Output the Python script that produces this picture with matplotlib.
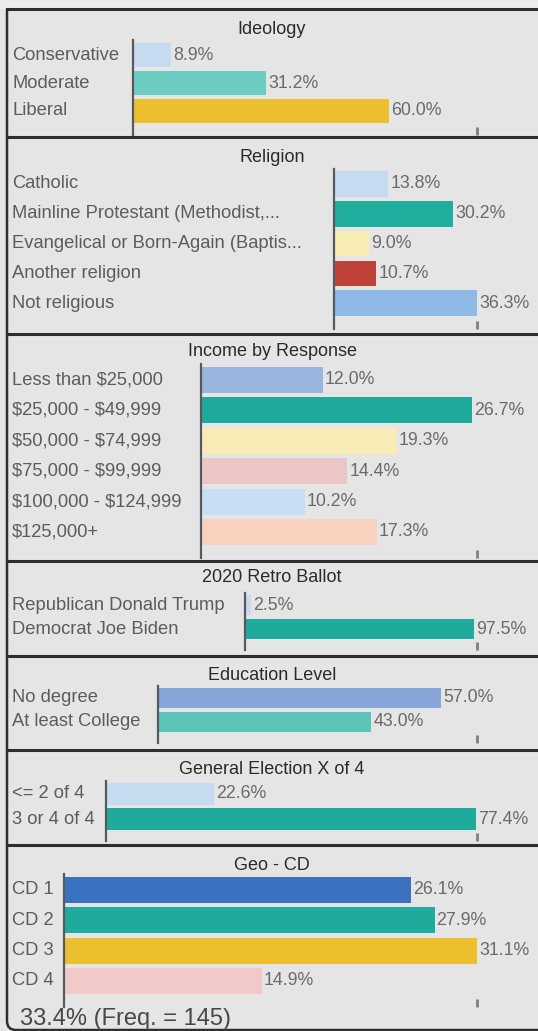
import matplotlib
matplotlib.use("Agg")
import matplotlib.pyplot as plt
from matplotlib.transforms import blended_transform_factory
from matplotlib.patches import PathPatch
from matplotlib.path import Path
from matplotlib.lines import Line2D

# ---------------- data ----------------
ideology_cats = ["Conservative", "Moderate", "Liberal"]
ideology_vals = [8.9, 31.2, 60.0]

religion_cats = ["Catholic", "Mainline Protestant (Methodist,...",
                 "Evangelical or Born-Again (Baptis...", "Another religion",
                 "Not religious"]
religion_vals = [13.8, 30.2, 9.0, 10.7, 36.3]

income_cats = ["Less than $25,000", "$25,000 - $49,999", "$50,000 - $74,999",
               "$75,000 - $99,999", "$100,000 - $124,999", "$125,000+"]
income_vals = [12.0, 26.7, 19.3, 14.4, 10.2, 17.3]

ballot_cats = ["Republican Donald Trump", "Democrat Joe Biden"]
ballot_vals = [2.5, 97.5]

education_cats = ["No degree", "At least College"]
education_vals = [57.0, 43.0]

general_cats = ["<= 2 of 4", "3 or 4 of 4"]
general_vals = [22.6, 77.4]

geo_cats = ["CD 1", "CD 2", "CD 3", "CD 4"]
geo_vals = [26.1, 27.9, 31.1, 14.9]

footer_text = "33.4% (Freq. = 145)"

titles = ["Ideology", "Religion", "Income by Response", "2020 Retro Ballot",
          "Education Level", "General Election X of 4", "Geo - CD"]

# ---------------- styles / layout ----------------
colors = [
    ["#c6daf0", "#6dccc2", "#ecbf2f"],
    ["#c6daf0", "#1fae9e", "#f8ecb5", "#c0433a", "#8fb9e6"],
    ["#9ab6df", "#1fab9b", "#f8ebb5", "#ecc6c4", "#c8def3", "#f9d2bf"],
    ["#c6daf0", "#1fab9b"],
    ["#86a6da", "#5cc5ba"],
    ["#c6daf0", "#1fab9b"],
    ["#3b72bf", "#1fab9b", "#ecbf2f", "#f0c9c8"],
]
# per panel: spine x (px), first bar centre (px), spacing (px), title y (px), x max
layout = [
    (133, 55, 28.0, 29, 80.6),
    (334, 184, 29.8, 157, 36.3),
    (201, 380, 30.4, 352, 27.2),
    (245, 605, 24.0, 578, 98.8),
    (158, 698, 24.0, 676, 64.3),
    (106, 794, 25.0, 770, 77.6),
    (64, 890, 30.3, 865, 31.1),
]
borders = [9, 137, 334, 561, 656, 750, 845]
W, H = 538, 1031
RIGHT = 477
LABEL_FS = 13.2
VALUE_FS = 12.8
TITLE_FS = 13.0

FONT = ["Liberation Sans", "DejaVu Sans"]
plt.rcParams["font.family"] = FONT

fig = plt.figure(figsize=(W / 100, H / 100), dpi=100)
fig.patch.set_facecolor("#e5e5e5")

def fx(x):
    return x / W

def fy(y):
    return 1 - y / H

# light top strip
fig.add_artist(plt.Rectangle((0, fy(8)), 1, fy(0) - fy(8), color="#ededed",
                             transform=fig.transFigure))
# panel borders
for b in borders:
    fig.add_artist(Line2D([fx(7), 1], [fy(b), fy(b)], color="#2e2e2e", lw=2.2,
                          transform=fig.transFigure))
# left border + rounded bottom-left corner + bottom border
frame = Path([(fx(7), fy(9)), (fx(7), fy(1021)), (fx(7), fy(1030)),
              (fx(16), fy(1030)), (1.0, fy(1030))],
             [Path.MOVETO, Path.LINETO, Path.CURVE3, Path.CURVE3, Path.LINETO])
fig.add_artist(PathPatch(frame, fc="none", ec="#2e2e2e", lw=1.8,
                         transform=fig.transFigure))

all_cats = [ideology_cats, religion_cats, income_cats, ballot_cats,
            education_cats, general_cats, geo_cats]
all_vals = [ideology_vals, religion_vals, income_vals, ballot_vals,
            education_vals, general_vals, geo_vals]

et, eb = 0.02, 0.36
for cats, vals, cols, (sx, c0, sp, ty, xmax), title in zip(
        all_cats, all_vals, colors, layout, titles):
    n = len(cats)
    top = c0 - sp * (0.5 + et)
    bot = c0 + sp * (n - 1 + 0.5 + eb)
    ax = fig.add_axes([fx(sx), fy(bot), fx(RIGHT) - fx(sx), fy(top) - fy(bot)])
    ax.set_facecolor("none")
    ypos = list(range(n))
    ax.barh(ypos, vals, height=0.86, color=cols, edgecolor="none")
    ax.set_xlim(0, xmax)
    ax.set_ylim(n - 1 + 0.5 + eb, -0.5 - et)
    for s in ["top", "right", "bottom"]:
        ax.spines[s].set_visible(False)
    ax.spines["left"].set_color("#555a60")
    ax.spines["left"].set_linewidth(1.6)
    ax.set_yticks([])
    ax.set_xticks([xmax])
    ax.set_xticklabels([])
    ax.tick_params(axis="x", direction="in", length=6, width=2, color="#7a7f88")
    tr = blended_transform_factory(fig.transFigure, ax.transData)
    for i, (c, v) in enumerate(zip(cats, vals)):
        ax.text(fx(12), i, c, transform=tr, ha="left", va="center",
                fontsize=LABEL_FS, color="#5c5c5c", parse_math=False)
        ax.annotate(f"{v:.1f}%", (v, i), xytext=(1.5, 0), textcoords="offset points",
                    ha="left", va="center", fontsize=VALUE_FS, color="#6a6a6a",
                    annotation_clip=False, parse_math=False)
    fig.text(fx(272), fy(ty), title, ha="center", va="center", fontsize=TITLE_FS,
             color="#2a2a2a", parse_math=False)

fig.text(fx(20), fy(1019), footer_text, ha="left", va="center", fontsize=17,
         color="#474747", parse_math=False)

fig.savefig("out.png", dpi=100, facecolor=fig.get_facecolor())
